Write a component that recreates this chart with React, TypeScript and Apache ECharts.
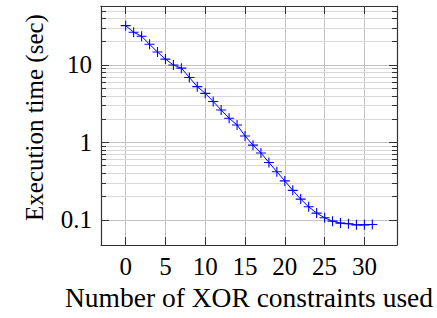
import React, { useEffect, useRef } from "react";
import * as echarts from "echarts";

const constraints = [0, 1, 2, 3, 4, 5, 6, 7, 8, 9, 10, 11, 12, 13, 14, 15, 16, 17, 18, 19, 20, 21, 22, 23, 24, 25, 26, 27, 28, 29, 30, 31];
const execTime = [32.2, 26.5, 23.5, 18.5, 14.7, 11.9, 10.0, 9.1, 6.9, 5.25, 4.3, 3.38, 2.62, 2.05, 1.68, 1.21, 0.92, 0.73, 0.55, 0.417, 0.318, 0.24, 0.185, 0.147, 0.122, 0.106, 0.096, 0.0905, 0.0888, 0.086, 0.086, 0.087];
const xTickValues = [0, 5, 10, 15, 20, 25, 30];
const yMajorValues = [0.1, 1, 10];
const yMinorValues = [0.2, 0.3, 0.4, 0.5, 0.6, 0.7, 0.8, 0.9, 2, 3, 4, 5, 6, 7, 8, 9, 20, 30, 40, 50];
const xRange = [-3.1, 34.1];
const yRange = [0.0472, 57.8];

const FONT = "Liberation Serif";
const FRAME = "#333";
const MAJOR_GRID = "#c2c2c2";
const MINOR_GRID = "#d8d8d8";
const BLUE = "#0000ff";

export default function App() {
  const ref = useRef<HTMLDivElement>(null);
  useEffect(() => {
    document.body.style.margin = "0";
    const chart = echarts.init(ref.current!, null, { renderer: "svg" });
    const textStyle = { fontFamily: FONT, fontSize: 25, color: "#000" };
    const xBase = {
      type: "value",
      min: xRange[0],
      max: xRange[1],
      splitLine: { show: false },
      axisLine: { show: true, onZero: false, lineStyle: { color: FRAME, width: 1.2 } },
      z: 3,
    };
    const yBase = {
      type: "log",
      min: yRange[0],
      max: yRange[1],
      splitLine: { show: false },
      minorTick: { show: false },
      minorSplitLine: { show: false },
      z: 3,
    };
    const majorTick = { show: true, inside: true, length: 8, customValues: yMajorValues, lineStyle: { color: FRAME, width: 1 } };
    const minorTick = { show: true, inside: true, length: 5, customValues: yMinorValues, lineStyle: { color: FRAME, width: 1 } };
    const xTick = { show: true, inside: true, length: 8, customValues: xTickValues, lineStyle: { color: FRAME, width: 1 } };

    chart.setOption({
      animation: false,
      textStyle: { fontFamily: FONT },
      grid: { left: 101, top: 6, right: 40, bottom: 73, containLabel: false, outerBoundsMode: "none" },
      xAxis: [
        {
          ...xBase,
          position: "bottom",
          axisTick: xTick,
          axisLabel: { ...textStyle, customValues: xTickValues, margin: 9 },
          name: "Number of XOR constraints used",
          nameLocation: "middle",
          nameGap: 31,
          nameTextStyle: { ...textStyle, fontSize: 27.5 },
        },
        {
          ...xBase,
          position: "top",
          axisTick: xTick,
          axisLabel: { show: false },
        },
      ],
      yAxis: [
        {
          ...yBase,
          position: "left",
          axisLine: { show: true, onZero: false, lineStyle: { color: FRAME, width: 1.2 } },
          axisTick: majorTick,
          axisLabel: {
            ...textStyle,
            customValues: yMajorValues,
            margin: 9,
            formatter: (v: number) => String(+Number(v).toPrecision(3)),
          },
          name: "Execution time (sec)",
          nameLocation: "middle",
          nameGap: 54,
          nameTextStyle: { ...textStyle, fontSize: 25, padding: [0, 0, 0, 16] },
        },
        { ...yBase, position: "left", axisLine: { show: false, onZero: false }, axisTick: minorTick, axisLabel: { show: false } },
        {
          ...yBase,
          position: "right",
          axisLine: { show: true, onZero: false, lineStyle: { color: FRAME, width: 1.2 } },
          axisTick: majorTick,
          axisLabel: { show: false },
        },
        { ...yBase, position: "right", axisLine: { show: false, onZero: false }, axisTick: minorTick, axisLabel: { show: false } },
      ],
      series: [
        {
          type: "line",
          xAxisIndex: 0,
          yAxisIndex: 0,
          data: constraints.map((x, i) => [x, execTime[i]]),
          symbol: "path://M0,-4L0,4M-4,0L4,0",
          symbolSize: 10,
          itemStyle: { color: BLUE, borderColor: BLUE, borderWidth: 1.1 },
          lineStyle: { color: BLUE, width: 1 },
          z: 2,
          markLine: {
            silent: true,
            z: 1,
            symbol: ["none", "none"],
            label: { show: false },
            emphasis: { disabled: true },
            data: [
              ...xTickValues.map((v) => ({ xAxis: v, lineStyle: { color: MAJOR_GRID, width: 1, type: "solid" } })),
              ...yMajorValues.map((v) => ({ yAxis: v, lineStyle: { color: MAJOR_GRID, width: 1, type: "solid" } })),
              ...yMinorValues.map((v) => ({ yAxis: v, lineStyle: { color: MINOR_GRID, width: 1, type: "solid" } })),
            ],
          },
        },
      ],
    });
    return () => chart.dispose();
  }, []);
  return <div ref={ref} style={{ width: 437, height: 318 }} />;
}
